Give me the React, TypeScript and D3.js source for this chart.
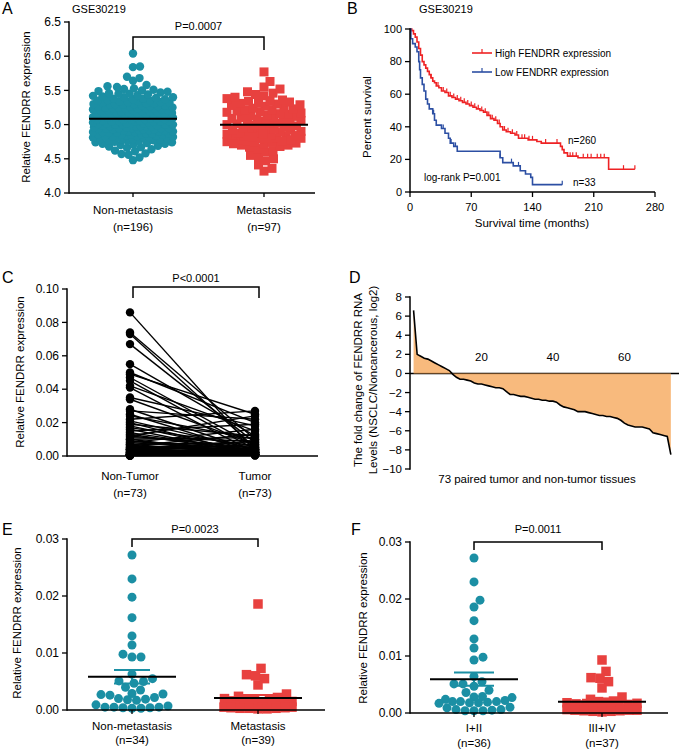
import React from "react";
import * as d3 from "d3";

const FONT = "'Liberation Sans', Arial, Helvetica, sans-serif";
const TEAL = "#1b8fa4";
const RED = "#e8413f";
const KM_RED = "#ee2224";
const KM_BLUE = "#2c4fa3";
const ORANGE = "#f6a95c";

// ---------- Panel A ----------
const aCategories = ["Non-metastasis", "Metastasis"];
const aCounts = ["(n=196)", "(n=97)"];
const aTicks = [4.0, 4.5, 5.0, 5.5, 6.0, 6.5];
const aNonMetastasis = [
  4.48, 4.52, 4.56, 4.57, 4.58, 4.61, 4.62, 4.64, 4.66, 4.67, 4.68, 4.69, 4.7,
  4.71, 4.72, 4.72, 4.73, 4.74, 4.74, 4.75, 4.76, 4.76, 4.77, 4.77, 4.78, 4.78,
  4.79, 4.79, 4.8, 4.8, 4.81, 4.81, 4.82, 4.82, 4.83, 4.83, 4.83, 4.84, 4.84,
  4.85, 4.85, 4.85, 4.86, 4.86, 4.87, 4.87, 4.87, 4.88, 4.88, 4.89, 4.89, 4.89,
  4.9, 4.9, 4.9, 4.91, 4.91, 4.92, 4.92, 4.93, 4.93, 4.93, 4.94, 4.94, 4.95,
  4.95, 4.95, 4.95, 4.96, 4.96, 4.97, 4.97, 4.97, 4.98, 4.98, 4.99, 4.99, 5.0,
  5.0, 5.0, 5.0, 5.01, 5.01, 5.02, 5.02, 5.02, 5.03, 5.03, 5.04, 5.04, 5.05,
  5.05, 5.05, 5.05, 5.06, 5.06, 5.07, 5.07, 5.07, 5.08, 5.08, 5.09, 5.09, 5.1,
  5.1, 5.1, 5.1, 5.11, 5.11, 5.12, 5.12, 5.12, 5.13, 5.13, 5.14, 5.14, 5.15,
  5.15, 5.15, 5.15, 5.16, 5.16, 5.17, 5.17, 5.17, 5.18, 5.18, 5.19, 5.19, 5.2,
  5.2, 5.2, 5.21, 5.21, 5.22, 5.22, 5.23, 5.23, 5.23, 5.24, 5.24, 5.25, 5.25,
  5.25, 5.26, 5.26, 5.27, 5.27, 5.28, 5.28, 5.29, 5.29, 5.3, 5.3, 5.3, 5.31,
  5.31, 5.32, 5.32, 5.33, 5.33, 5.34, 5.34, 5.35, 5.35, 5.36, 5.37, 5.37, 5.38,
  5.38, 5.39, 5.4, 5.4, 5.41, 5.42, 5.43, 5.44, 5.45, 5.45, 5.46, 5.47, 5.48,
  5.49, 5.5, 5.51, 5.52, 5.53, 5.55, 5.56, 5.58, 5.64, 5.68, 5.7, 5.84, 5.85,
  6.04,
];
const aMetastasis = [
  4.32, 4.36, 4.41, 4.47, 4.5, 4.53, 4.55, 4.6, 4.62, 4.65, 4.67, 4.68, 4.7,
  4.72, 4.73, 4.74, 4.75, 4.76, 4.78, 4.79, 4.8, 4.81, 4.82, 4.83, 4.84, 4.85,
  4.86, 4.87, 4.88, 4.89, 4.9, 4.91, 4.92, 4.92, 4.93, 4.94, 4.95, 4.96, 4.97,
  4.98, 4.99, 5.0, 5.01, 5.02, 5.02, 5.03, 5.04, 5.05, 5.06, 5.07, 5.08, 5.09,
  5.1, 5.11, 5.12, 5.13, 5.14, 5.15, 5.16, 5.17, 5.18, 5.19, 5.2, 5.21, 5.22,
  5.23, 5.24, 5.25, 5.27, 5.28, 5.29, 5.3, 5.31, 5.32, 5.33, 5.34, 5.35, 5.36,
  5.38, 5.4, 5.42, 5.44, 5.46, 5.48, 5.52, 5.55, 5.63, 5.77, 4.7, 4.72, 4.74,
  4.76, 4.78, 4.8, 4.82, 4.84, 4.86,
];

// ---------- Panel B (Kaplan-Meier) ----------
const kmXTicks = [0, 70, 140, 210, 280];
const kmYTicks = [0, 20, 40, 60, 80, 100];
const kmLegend = ["High FENDRR expression", "Low FENDRR expression"];
const kmHighTime = [
  0, 2, 4, 6, 8, 10, 12, 14, 16, 18, 20, 22, 24, 26, 28, 30, 33, 36, 40, 44,
  48, 52, 56, 60, 64, 68, 72, 76, 80, 84, 88, 92, 96, 100, 103, 106, 110, 115,
  120, 124, 135, 145, 150, 172, 174, 176, 180, 192, 227,
];
const kmHighSurv = [
  100, 99, 97, 95, 92, 88, 84, 80, 78, 76, 74, 72, 70, 68, 67, 65, 64, 62, 61,
  59, 58, 57, 56, 55, 54, 53, 52, 51, 50, 49, 47, 45, 44, 42, 40, 38, 37, 36,
  35, 33, 32, 31, 30, 28, 26, 24, 22, 21, 14,
];
const kmHighEnd = 257;
const kmHighCensor = [
  24, 32, 38, 42, 46, 50, 54, 58, 62, 66, 70, 74, 78, 82, 86, 90, 94, 98, 102,
  108, 112, 117, 122, 128, 131, 136, 140, 155, 168, 183, 186, 190, 198, 203,
  207, 214, 218, 222, 244, 257,
];
const kmLowTime = [
  0, 1, 3, 6, 8, 10, 11, 12, 14, 16, 18, 20, 22, 26, 28, 30, 36, 40, 44, 46, 50,
  54, 103, 106, 118, 126, 132, 138, 140,
];
const kmLowSurv = [
  100, 94, 91, 89, 86, 80, 75, 70, 66, 62, 57, 54, 51, 48, 44, 41, 39, 36, 33,
  30, 28, 25, 21, 18, 16, 13, 11, 9, 4.5,
];
const kmLowEnd = 174;
const kmLowCensor = [27, 38, 47, 52, 103, 116, 124, 174];

// ---------- Panel C ----------
const cCategories = ["Non-Tumor", "Tumor"];
const cCounts = ["(n=73)", "(n=73)"];
const cTicks = [0, 0.02, 0.04, 0.06, 0.08, 0.1];
const cNonTumor = [
  0.086, 0.074, 0.073, 0.067, 0.055, 0.05, 0.049, 0.047, 0.045, 0.042, 0.041,
  0.035, 0.034, 0.028, 0.027, 0.025, 0.024, 0.022, 0.021, 0.02, 0.019, 0.018,
  0.017, 0.016, 0.015, 0.014, 0.013, 0.012, 0.012, 0.011, 0.01, 0.01, 0.009,
  0.009, 0.008, 0.008, 0.007, 0.007, 0.006, 0.006, 0.006, 0.005, 0.005, 0.005,
  0.004, 0.004, 0.004, 0.004, 0.003, 0.003, 0.003, 0.003, 0.003, 0.002, 0.002,
  0.002, 0.002, 0.002, 0.002, 0.001, 0.001, 0.001, 0.001, 0.001, 0.001, 0.001,
  0.0005, 0.0005, 0.0005, 0.0005, 0.0003, 0.0003, 0.0002,
];
const cTumor = [
  0.003, 0.01, 0.005, 0.008, 0.012, 0.02, 0.025, 0.006, 0.004, 0.015, 0.002,
  0.018, 0.007, 0.003, 0.022, 0.002, 0.01, 0.027, 0.004, 0.001, 0.012, 0.002,
  0.006, 0.001, 0.019, 0.003, 0.002, 0.024, 0.005, 0.009, 0.001, 0.011, 0.004,
  0.002, 0.016, 0.003, 0.001, 0.008, 0.002, 0.013, 0.004, 0.001, 0.006, 0.003,
  0.002, 0.009, 0.001, 0.005, 0.002, 0.003, 0.001, 0.007, 0.002, 0.001, 0.004,
  0.002, 0.003, 0.001, 0.002, 0.005, 0.001, 0.002, 0.003, 0.001, 0.002, 0.001,
  0.004, 0.001, 0.002, 0.0005, 0.001, 0.0005, 0.0003,
];

// ---------- Panel D ----------
const dFoldChange = [
  6.6, 2.0, 1.8, 1.6, 1.5, 1.3, 1.1, 0.9, 0.7, 0.5, 0.3, -0.1, -0.4, -0.6,
  -0.6, -0.7, -0.8, -1.0, -1.1, -1.1, -1.2, -1.3, -1.4, -1.5, -1.5, -1.6, -1.9,
  -2.2, -2.2, -2.3, -2.4, -2.4, -2.5, -2.6, -2.7, -2.7, -2.8, -2.8, -2.9, -2.9,
  -3.0, -3.3, -3.5, -3.6, -3.7, -3.8, -4.0, -4.0, -4.0, -4.1, -4.2, -4.3, -4.4,
  -4.4, -4.5, -4.5, -4.6, -4.7, -4.9, -5.2, -5.4, -5.5, -5.6, -5.6, -5.6, -5.7,
  -5.8, -6.2, -6.3, -6.4, -6.5, -6.6, -8.5,
];
const dYTicks = [-10, -8, -6, -4, -2, 0, 2, 4, 6, 8];
const dXTicks = [20, 40, 60];

// ---------- Panel E ----------
const eCategories = ["Non-metastasis", "Metastasis"];
const eCounts = ["(n=34)", "(n=39)"];
const eNonMetastasis = [
  0.0272, 0.023, 0.0198, 0.0162, 0.013, 0.0114, 0.0098, 0.0093, 0.0093, 0.0063,
  0.0055, 0.0051, 0.005, 0.0047, 0.004, 0.0035, 0.0028, 0.0027, 0.0026, 0.0029,
  0.002, 0.0019, 0.0022, 0.0018, 0.0017, 0.0009, 0.0007, 0.0005, 0.0005,
  0.0004, 0.0003, 0.0003, 0.0004, 0.0005,
];
const eMetastasis = [
  0.0186, 0.0073, 0.0062, 0.006, 0.0055, 0.0044, 0.0028, 0.0024, 0.0022, 0.002,
  0.0019, 0.0018, 0.0017, 0.0016, 0.0015, 0.0014, 0.0013, 0.0012, 0.0011,
  0.001, 0.001, 0.0009, 0.0009, 0.0008, 0.0008, 0.0007, 0.0007, 0.0006, 0.0006,
  0.0005, 0.0005, 0.0005, 0.0004, 0.0004, 0.0003, 0.0003, 0.0003, 0.0002,
  0.0002,
];
const efTicks = [0, 0.01, 0.02, 0.03];

// ---------- Panel F ----------
const fCategories = ["I+II", "III+IV"];
const fCounts = ["(n=36)", "(n=37)"];
const fStageI_II = [
  0.0272, 0.023, 0.0198, 0.0186, 0.0162, 0.013, 0.0114, 0.0098, 0.0093, 0.0064,
  0.0055, 0.0051, 0.0051, 0.0047, 0.004, 0.0036, 0.0029, 0.0028, 0.0027,
  0.0024, 0.0022, 0.002, 0.002, 0.002, 0.0019, 0.0018, 0.0018, 0.0017, 0.001,
  0.0009, 0.0006, 0.0006, 0.0005, 0.0004, 0.0004, 0.0004,
];
const fStageIII_IV = [
  0.0093, 0.0073, 0.0062, 0.0061, 0.0055, 0.0044, 0.0028, 0.0024, 0.0021,
  0.002, 0.0019, 0.0018, 0.0017, 0.0016, 0.0015, 0.0014, 0.0013, 0.0012,
  0.0011, 0.001, 0.001, 0.0009, 0.0009, 0.0008, 0.0008, 0.0007, 0.0007, 0.0006,
  0.0006, 0.0005, 0.0005, 0.0005, 0.0004, 0.0004, 0.0003, 0.0003, 0.0002,
];

// ---------- helpers ----------
// beeswarm: collision-free where possible, otherwise the least-overlapping slot within maxHalf
function swarm(values: number[], y: (v: number) => number, minDist: number, maxHalf: number) {
  const order = values.map((_, i) => i).sort((a, b) => values[a] - values[b]);
  const placed: { x: number; y: number }[] = [];
  const out: { dx: number; y: number }[] = new Array(values.length);
  const steps = Math.floor(maxHalf / 0.5);
  for (const i of order) {
    const py = y(values[i]);
    let off = 0;
    let best = 0;
    let bestD = -1;
    let found = false;
    for (let k = 0; k <= steps * 2; k++) {
      const o = (k % 2 === 1 ? 1 : -1) * Math.ceil(k / 2) * 0.5;
      let nearest = Infinity;
      for (const p of placed) {
        const dy = p.y - py;
        if (Math.abs(dy) >= minDist) continue;
        const dx = p.x - o;
        const d = Math.sqrt(dx * dx + dy * dy);
        if (d < nearest) nearest = d;
      }
      if (nearest >= minDist) {
        off = o;
        found = true;
        break;
      }
      if (nearest > bestD + 0.3) {
        bestD = nearest;
        best = o;
      }
    }
    if (!found) off = best;
    placed.push({ x: off, y: py });
    out[i] = { dx: off, y: py };
  }
  return out;
}

function YAxis({ scale, x, ticks, fmt, fs }: any) {
  const [r0, r1] = scale.range();
  return (
    <g>
      <line x1={x} x2={x} y1={r0} y2={r1} stroke="#000" strokeWidth={1.5} strokeLinecap="square" />
      {ticks.map((t: number) => (
        <g key={t}>
          <line x1={x - 5} x2={x} y1={scale(t)} y2={scale(t)} stroke="#000" strokeWidth={1.3} />
          <text x={x - 8} y={scale(t)} dy="0.35em" textAnchor="end" fontSize={fs}>
            {fmt(t)}
          </text>
        </g>
      ))}
    </g>
  );
}

function Bracket({ x1, x2, top, bottom, text, textY }: any) {
  return (
    <g>
      <path d={`M${x1},${bottom}V${top}H${x2}V${bottom}`} fill="none" stroke="#000" strokeWidth={1.5} />
      <text x={(x1 + x2) / 2} y={textY} textAnchor="middle" fontSize={11}>
        {text}
      </text>
    </g>
  );
}

function RotTitle({ x, y, lines, fs = 11.5, gap = 15 }: any) {
  return (
    <text transform={`translate(${x},${y}) rotate(-90)`} textAnchor="middle" fontSize={fs}>
      {lines.map((l: string, i: number) => (
        <tspan key={i} x={0} dy={i === 0 ? 0 : gap}>
          {l}
        </tspan>
      ))}
    </text>
  );
}

type Series = {
  values: number[];
  shape: "circle" | "square";
  color: string;
  size: number;
  minDist: number;
  maxHalf: number;
};

function DotPanel(p: any) {
  const y = d3.scaleLinear().domain(p.yDomain).range(p.yRange);
  const xc = d3.scalePoint<string>().domain(p.cats).range(p.catRange);
  const xBase = p.yRange[0];
  return (
    <g>
      <text x={p.letterX} y={p.letterY} fontSize={16}>{p.letter}</text>
      <RotTitle x={p.yTitleX} y={p.yTitleY} lines={[p.yTitle]} />
      {p.series.map((s: Series, si: number) => {
        const cx = xc(p.cats[si]) as number;
        const pos = swarm(s.values, y, s.minDist, s.maxHalf);
        return (
          <g key={si}>
            {pos.map((q, i) =>
              s.shape === "circle" ? (
                <circle key={i} cx={cx + q.dx} cy={q.y} r={s.size / 2} fill={s.color} />
              ) : (
                <rect key={i} x={cx + q.dx - s.size / 2} y={q.y - s.size / 2} width={s.size} height={s.size} fill={s.color} />
              )
            )}
          </g>
        );
      })}
      {p.series.map((s: Series, si: number) => {
        const cx = xc(p.cats[si]) as number;
        const m = d3.mean(s.values) as number;
        const sem = (d3.deviation(s.values) as number) / Math.sqrt(s.values.length);
        return (
          <g key={"m" + si}>
            {p.semHalf ? (
              <g stroke={s.color} strokeWidth={2}>
                <line x1={cx} x2={cx} y1={y(m - sem)} y2={y(m + sem)} />
                <line x1={cx - p.semHalf} x2={cx + p.semHalf} y1={y(m + sem)} y2={y(m + sem)} />
                <line x1={cx - p.semHalf} x2={cx + p.semHalf} y1={y(m - sem)} y2={y(m - sem)} />
              </g>
            ) : null}
            <line x1={cx - p.meanHalf} x2={cx + p.meanHalf} y1={y(m)} y2={y(m)} stroke="#000" strokeWidth={2} />
          </g>
        );
      })}
      <YAxis scale={y} x={p.axisX} ticks={p.yTicks} fmt={p.yFmt} fs={p.tickFs} />
      <line x1={p.axisX} x2={p.xEnd} y1={xBase} y2={xBase} stroke="#000" strokeWidth={1.5} />
      {p.cats.map((c: string, i: number) => (
        <g key={c}>
          <line x1={xc(c)} x2={xc(c)} y1={xBase} y2={xBase + 4} stroke="#000" strokeWidth={1.3} />
          <text x={xc(c)} y={p.labelY1} textAnchor="middle" fontSize={11.5}>{c}</text>
          <text x={xc(c)} y={p.labelY2} textAnchor="middle" fontSize={11.5}>{p.counts[i]}</text>
        </g>
      ))}
      <Bracket x1={xc(p.cats[0])} x2={xc(p.cats[1])} top={p.bracketTop} bottom={p.bracketBottom} text={p.pText} textY={p.pTextY} />
    </g>
  );
}

function PanelB() {
  const x = d3.scaleLinear().domain([0, 280]).range([410, 655]);
  const y = d3.scaleLinear().domain([0, 100]).range([192, 29]);
  const line = d3
    .line<[number, number]>()
    .x((d) => x(d[0]))
    .y((d) => y(d[1]))
    .curve(d3.curveStepAfter);
  const curves = [
    { t: kmHighTime, s: kmHighSurv, end: kmHighEnd, c: kmHighCensor, color: KM_RED },
    { t: kmLowTime, s: kmLowSurv, end: kmLowEnd, c: kmLowCensor, color: KM_BLUE },
  ];
  const survAt = (t: number[], s: number[], v: number) => {
    const i = d3.bisectRight(t, v) - 1;
    return s[Math.max(0, i)];
  };
  return (
    <g>
      <text x={347} y={14} fontSize={16}>B</text>
      <text x={419} y={13} fontSize={11}>GSE30219</text>
      <RotTitle x={371} y={117} lines={["Percent survival"]} />
      {curves.map((cv, ci) => {
        const pts: [number, number][] = cv.t.map((tt, i) => [tt, cv.s[i]]);
        pts.push([cv.end, cv.s[cv.s.length - 1]]);
        return (
          <g key={ci}>
            <path d={line(pts) as string} fill="none" stroke={cv.color} strokeWidth={1.6} />
            {cv.c.map((ct, i) => {
              const sv = survAt(cv.t, cv.s, ct);
              return <line key={i} x1={x(ct)} x2={x(ct)} y1={y(sv)} y2={y(sv) - 4} stroke={cv.color} strokeWidth={1.2} />;
            })}
          </g>
        );
      })}
      <YAxis scale={y} x={410} ticks={kmYTicks} fmt={d3.format("d")} fs={11} />
      <line x1={410} x2={655} y1={192} y2={192} stroke="#000" strokeWidth={1.5} />
      {kmXTicks.map((t) => (
        <g key={t}>
          <line x1={x(t)} x2={x(t)} y1={192} y2={197} stroke="#000" strokeWidth={1.3} />
          <text x={x(t)} y={211} textAnchor="middle" fontSize={11}>{t}</text>
        </g>
      ))}
      <text x={532} y={227} textAnchor="middle" fontSize={11.5}>Survival time (months)</text>
      {kmLegend.map((l, i) => {
        const ly = 53 + i * 19;
        const col = i === 0 ? KM_RED : KM_BLUE;
        return (
          <g key={l}>
            <line x1={472} x2={492} y1={ly} y2={ly} stroke={col} strokeWidth={1.6} />
            <line x1={482} x2={482} y1={ly} y2={ly - 4} stroke={col} strokeWidth={1.2} />
            <text x={495} y={ly} dy="0.35em" fontSize={10}>{l}</text>
          </g>
        );
      })}
      <text x={568} y={140} dy="0.35em" fontSize={10}>n=260</text>
      <text x={573} y={182} dy="0.35em" fontSize={10}>n=33</text>
      <text x={424} y={177} dy="0.35em" fontSize={10}>log-rank P=0.001</text>
    </g>
  );
}

function PanelC() {
  const y = d3.scaleLinear().domain([0, 0.1]).range([456, 289]);
  const xc = d3.scalePoint<string>().domain(cCategories).range([130, 255]);
  const x0 = xc(cCategories[0]) as number;
  const x1 = xc(cCategories[1]) as number;
  return (
    <g>
      <text x={2} y={283} fontSize={16}>C</text>
      <RotTitle x={24} y={372} lines={["Relative FENDRR expression"]} />
      {cNonTumor.map((v, i) => (
        <line key={i} x1={x0} x2={x1} y1={y(v)} y2={y(cTumor[i])} stroke="#000" strokeWidth={1.4} />
      ))}
      {cNonTumor.map((v, i) => (
        <circle key={"a" + i} cx={x0} cy={y(v)} r={4.2} fill="#000" />
      ))}
      {cTumor.map((v, i) => (
        <circle key={"b" + i} cx={x1} cy={y(v)} r={4.2} fill="#000" />
      ))}
      <YAxis scale={y} x={67} ticks={cTicks} fmt={d3.format(".2f")} fs={12} />
      <line x1={67} x2={318} y1={456} y2={456} stroke="#000" strokeWidth={1.5} />
      {cCategories.map((c, i) => (
        <g key={c}>
          <text x={xc(c)} y={480} textAnchor="middle" fontSize={11.5}>{c}</text>
          <text x={xc(c)} y={497} textAnchor="middle" fontSize={11.5}>{cCounts[i]}</text>
        </g>
      ))}
      <Bracket x1={x0 + 3} x2={x1 + 4} top={287} bottom={298} text="P<0.0001" textY={282} />
    </g>
  );
}

function PanelD() {
  const x = d3.scaleLinear().domain([0, 75]).range([410, 678]);
  const y = d3.scaleLinear().domain([-10, 8]).range([469, 297]);
  const pts: [number, number][] = dFoldChange.map((v, i) => [i + 1, v]);
  const area = d3
    .area<[number, number]>()
    .x((d) => x(d[0]))
    .y0(y(0))
    .y1((d) => y(d[1]));
  const line = d3
    .line<[number, number]>()
    .x((d) => x(d[0]))
    .y((d) => y(d[1]));
  return (
    <g>
      <text x={349} y={283} fontSize={16}>D</text>
      <RotTitle x={362} y={380} lines={["The fold change of FENDRR RNA", "Levels (NSCLC/Noncancerous, log2)"]} fs={11.5} gap={15} />
      <line x1={410} x2={679} y1={y(0)} y2={y(0)} stroke="#000" strokeWidth={1.5} />
      <path d={area(pts) as string} fill={ORANGE} fillOpacity={0.8} />
      <path d={line(pts) as string} fill="none" stroke="#000" strokeWidth={1.6} />
      <YAxis scale={y} x={410} ticks={dYTicks} fmt={d3.format("d")} fs={11.5} />
      {dXTicks.map((t) => (
        <text key={t} x={x(t)} y={361} textAnchor="middle" fontSize={11.5}>{t}</text>
      ))}
      <text x={537} y={483} textAnchor="middle" fontSize={11.5}>73 paired tumor and non-tumor tissues</text>
    </g>
  );
}

export default function App() {
  const f2 = d3.format(".2f");
  return (
    <svg
      width={681}
      height={751}
      viewBox="0 0 681 751"
      style={{ position: "absolute", left: 0, top: 0, background: "#fff" }}
      fontFamily={FONT}
    >
      <rect width={681} height={751} fill="#fff" />
      <DotPanel
        letter="A" letterX={2} letterY={14}
        yDomain={[4, 6.5]} yRange={[193, 22]} yTicks={aTicks} yFmt={d3.format(".1f")}
        axisX={69} xEnd={315} cats={aCategories} counts={aCounts} catRange={[133, 264]}
        series={[
          { values: aNonMetastasis, shape: "circle", color: TEAL, size: 8.4, minDist: 7, maxHalf: 40 },
          { values: aMetastasis, shape: "square", color: RED, size: 9, minDist: 8, maxHalf: 37 },
        ]}
        meanHalf={44} pText="P=0.0007" pTextY={30} bracketTop={37} bracketBottom={50}
        yTitle="Relative FENDRR expression" yTitleX={30} yTitleY={107}
        labelY1={214} labelY2={231} tickFs={12}
      />
      <text x={72} y={13} fontSize={11}>GSE30219</text>
      <PanelB />
      <PanelC />
      <PanelD />
      <DotPanel
        letter="E" letterX={2} letterY={535}
        yDomain={[0, 0.03]} yRange={[710, 539]} yTicks={efTicks} yFmt={f2}
        axisX={67} xEnd={325} cats={eCategories} counts={eCounts} catRange={[132, 258]}
        series={[
          { values: eNonMetastasis, shape: "circle", color: TEAL, size: 9, minDist: 9, maxHalf: 36 },
          { values: eMetastasis, shape: "square", color: RED, size: 9.5, minDist: 9, maxHalf: 34 },
        ]}
        meanHalf={44} semHalf={18} pText="P=0.0023" pTextY={533} bracketTop={539} bracketBottom={547}
        yTitle="Relative FENDRR expression" yTitleX={21} yTitleY={623}
        labelY1={730} labelY2={744} tickFs={12}
      />
      <DotPanel
        letter="F" letterX={351} letterY={535}
        yDomain={[0, 0.03]} yRange={[713, 542]} yTicks={efTicks} yFmt={f2}
        axisX={410} xEnd={668} cats={fCategories} counts={fCounts} catRange={[474, 602]}
        series={[
          { values: fStageI_II, shape: "circle", color: TEAL, size: 9, minDist: 9, maxHalf: 38 },
          { values: fStageIII_IV, shape: "square", color: RED, size: 9.5, minDist: 9, maxHalf: 35 },
        ]}
        meanHalf={44} semHalf={20} pText="P=0.0011" pTextY={533} bracketTop={542} bracketBottom={550}
        yTitle="Relative FENDRR expression" yTitleX={367} yTitleY={628}
        labelY1={732} labelY2={747} tickFs={12}
      />
    </svg>
  );
}
